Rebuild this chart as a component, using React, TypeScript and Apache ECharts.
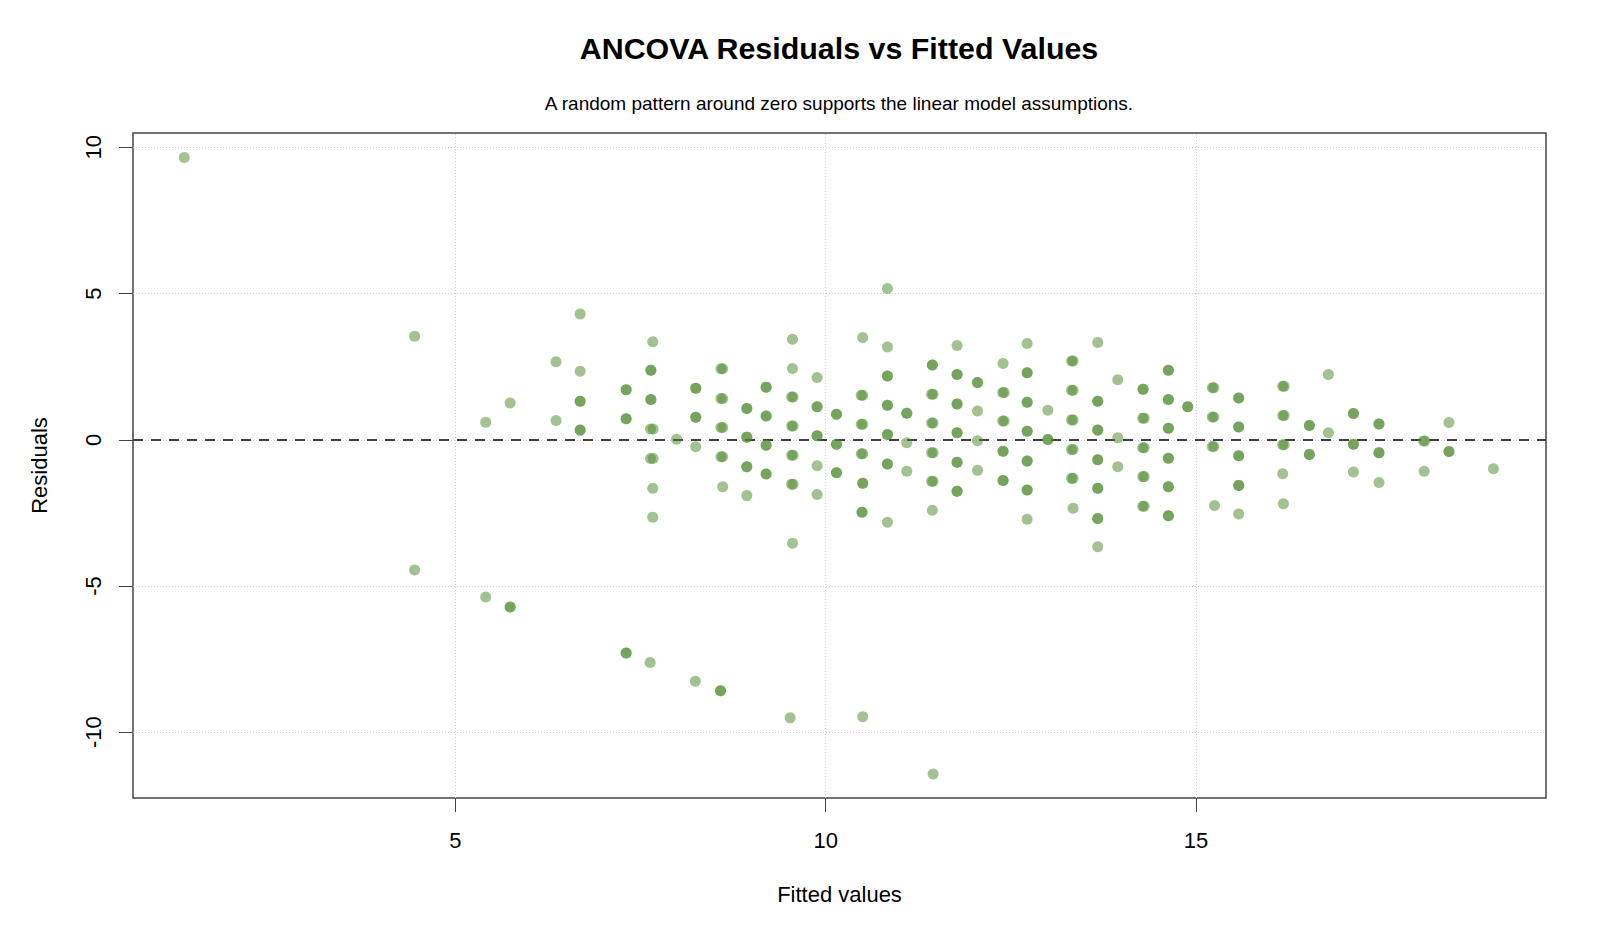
import React, { useEffect, useRef } from "react";
import * as echarts from "echarts";

// Fitted values (x) and residuals (y) of the ANCOVA model, one entry per observation.
// Observations sharing the same fitted value and residual appear as repeated pairs.
const fitted = [
  1.34,
  4.45, 4.45,
  5.41, 5.41,
  5.74, 5.74, 5.74,
  6.36, 6.36,
  6.685, 6.685, 6.685, 6.685, 6.685, 6.685,
  7.306, 7.306, 7.306, 7.306, 7.306, 7.306,
  7.665, 7.64, 7.64, 7.64, 7.64, 7.635, 7.67, 7.635, 7.67, 7.665, 7.665, 7.63,
  7.986,
  8.246, 8.246, 8.246, 8.246, 8.246, 8.24,
  8.585, 8.61, 8.585, 8.61, 8.585, 8.61, 8.585, 8.61, 8.61, 8.58, 8.58,
  8.935, 8.935, 8.935, 8.935, 8.935, 8.935, 8.935,
  9.196, 9.196, 9.196, 9.196, 9.196, 9.196, 9.196, 9.196,
  9.552, 9.552, 9.54, 9.56, 9.54, 9.56, 9.54, 9.56, 9.54, 9.56, 9.552, 9.52,
  9.884, 9.884, 9.884, 9.884, 9.884, 9.884, 9.884,
  10.146, 10.146, 10.146, 10.146, 10.146, 10.146,
  10.5, 10.48, 10.5, 10.48, 10.5, 10.48, 10.5, 10.5, 10.5, 10.49, 10.49, 10.5,
  10.834, 10.834, 10.834, 10.834, 10.834, 10.834, 10.834, 10.834, 10.834, 10.834, 10.834,
  11.095, 11.095, 11.095, 11.095,
  11.44, 11.44, 11.43, 11.45, 11.43, 11.45, 11.43, 11.45, 11.43, 11.45, 11.44, 11.45,
  11.774, 11.774, 11.774, 11.774, 11.774, 11.774, 11.774, 11.774, 11.774, 11.774, 11.774,
  12.05, 12.05, 12.05, 12.05, 12.05,
  12.395, 12.39, 12.41, 12.39, 12.41, 12.395, 12.395, 12.395, 12.395,
  12.72, 12.72, 12.72, 12.72, 12.72, 12.72, 12.72, 12.72, 12.72, 12.72, 12.72, 12.72,
  13.0, 13.0, 13.0,
  13.32, 13.34, 13.32, 13.34, 13.32, 13.34, 13.32, 13.34, 13.32, 13.34, 13.34,
  13.673, 13.673, 13.673, 13.673, 13.673, 13.673, 13.673, 13.673, 13.673, 13.673, 13.673, 13.673,
  13.943, 13.943, 13.943,
  14.285, 14.285, 14.28, 14.3, 14.28, 14.3, 14.28, 14.3, 14.28, 14.3,
  14.627, 14.627, 14.627, 14.627, 14.627, 14.627, 14.627, 14.627, 14.627, 14.627, 14.627, 14.627,
  14.888, 14.888,
  15.22, 15.24, 15.22, 15.24, 15.22, 15.24, 15.25,
  15.576, 15.576, 15.576, 15.576, 15.576, 15.576, 15.576, 15.576, 15.576,
  16.17, 16.19, 16.17, 16.19, 16.17, 16.19, 16.17, 16.18,
  16.53, 16.53, 16.53, 16.53,
  16.787, 16.787,
  17.125, 17.125, 17.125, 17.125, 17.125,
  17.47, 17.47, 17.47, 17.47, 17.47,
  18.07, 18.09, 18.08,
  18.415, 18.415, 18.415,
  19.015,
];

const residuals = [
  9.65,
  3.54, -4.45,
  0.6, -5.38,
  1.26, -5.72, -5.72,
  2.67, 0.66,
  4.3, 2.34, 1.32, 1.32, 0.33, 0.33,
  1.71, 1.71, 0.72, 0.72, -7.29, -7.29,
  3.35, 2.38, 2.38, 1.38, 1.38, 0.37, 0.37, -0.64, -0.64, -1.66, -2.65, -7.62,
  0.02,
  1.76, 1.76, 0.77, 0.77, -0.24, -8.26,
  2.43, 2.43, 1.41, 1.41, 0.42, 0.42, -0.58, -0.58, -1.61, -8.58, -8.58,
  1.07, 1.07, 0.09, 0.09, -0.92, -0.92, -1.91,
  1.8, 1.8, 0.81, 0.81, -0.19, -0.19, -1.17, -1.17,
  3.44, 2.44, 1.46, 1.46, 0.47, 0.47, -0.53, -0.53, -1.52, -1.52, -3.54, -9.51,
  2.13, 1.13, 1.13, 0.14, 0.14, -0.89, -1.87,
  0.87, 0.87, -0.15, -0.15, -1.13, -1.13,
  3.5, 1.52, 1.52, 0.53, 0.53, -0.48, -0.48, -1.49, -1.49, -2.48, -2.48, -9.47,
  5.17, 3.17, 2.18, 2.18, 1.18, 1.18, 0.18, 0.18, -0.83, -0.83, -2.82,
  0.91, 0.91, -0.1, -1.08,
  2.56, 2.56, 1.56, 1.56, 0.57, 0.57, -0.44, -0.44, -1.42, -1.42, -2.41, -11.43,
  3.22, 2.23, 2.23, 1.22, 1.22, 0.24, 0.24, -0.77, -0.77, -1.76, -1.76,
  1.96, 1.96, 0.98, -0.03, -1.04,
  2.61, 1.62, 1.62, 0.64, 0.64, -0.39, -0.39, -1.39, -1.39,
  3.29, 2.29, 2.29, 1.28, 1.28, 0.29, 0.29, -0.73, -0.73, -1.72, -1.72, -2.72,
  1.01, 0.01, 0.01,
  2.69, 2.69, 1.69, 1.69, 0.68, 0.68, -0.33, -0.33, -1.32, -1.32, -2.34,
  3.33, 1.32, 1.32, 0.33, 0.33, -0.68, -0.68, -1.66, -1.66, -2.69, -2.69, -3.66,
  2.05, 0.07, -0.92,
  1.73, 1.73, 0.74, 0.74, -0.27, -0.27, -1.26, -1.26, -2.27, -2.27,
  2.38, 2.38, 1.38, 1.38, 0.39, 0.39, -0.63, -0.63, -1.61, -1.61, -2.6, -2.6,
  1.13, 1.13,
  1.78, 1.78, 0.78, 0.78, -0.23, -0.23, -2.25,
  1.43, 1.43, 0.44, 0.44, -0.55, -0.55, -1.56, -1.56, -2.54,
  1.83, 1.83, 0.83, 0.83, -0.17, -0.17, -1.16, -2.19,
  0.49, 0.49, -0.5, -0.5,
  2.23, 0.24,
  0.9, 0.9, -0.15, -0.15, -1.1,
  0.54, 0.54, -0.44, -0.44, -1.46,
  -0.04, -0.04, -1.08,
  0.59, -0.4, -0.4,
  -0.99,
];

const xTicks = [5, 10, 15];
const yTicks = [-10, -5, 0, 5, 10];
const xRange = [0.648, 19.725];
const yRange = [-12.25, 10.49];

const TITLE = "ANCOVA Residuals vs Fitted Values";
const SUBTITLE = "A random pattern around zero supports the linear model assumptions.";
const X_NAME = "Fitted values";
const Y_NAME = "Residuals";

const FONT = '"Liberation Sans", Arial, Helvetica, sans-serif';
const POINT_COLOR = "rgba(77, 138, 45, 0.65)";
const AXIS_COLOR = "#444444";

export default function App() {
  const ref = useRef<HTMLDivElement>(null);

  useEffect(() => {
    if (!ref.current) return;
    const chart = echarts.init(ref.current, null, { renderer: "svg" });

    const points = fitted.map((x, i) => [x, residuals[i]]);

    const gridStyle = { type: [1, 2], color: "#cfcfcf", width: 1 };
    const zeroStyle = { type: [10, 8], color: "#404040", width: 2 };
    const refLines = [
      ...xTicks.map((v) => ({ xAxis: v, lineStyle: gridStyle })),
      ...yTicks.map((v) => ({ yAxis: v, lineStyle: gridStyle })),
      { yAxis: 0, lineStyle: zeroStyle },
    ];

    chart.setOption({
      animation: false,
      backgroundColor: "#ffffff",
      textStyle: { fontFamily: FONT },
      title: [
        {
          text: TITLE,
          left: 839,
          top: 48,
          padding: 0,
          textAlign: "center",
          textVerticalAlign: "middle",
          textStyle: { fontFamily: FONT, fontSize: 30.4, fontWeight: "bold", color: "#000000" },
        },
        {
          text: SUBTITLE,
          left: 839,
          top: 103,
          padding: 0,
          textAlign: "center",
          textVerticalAlign: "middle",
          textStyle: { fontFamily: FONT, fontSize: 19, fontWeight: "normal", color: "#000000" },
        },
      ],
      grid: {
        left: 133,
        right: 54,
        top: 133,
        bottom: 135,
        show: true,
        borderColor: AXIS_COLOR,
        borderWidth: 1.5,
        backgroundColor: "transparent",
        containLabel: false,
      },
      xAxis: {
        type: "value",
        min: xRange[0],
        max: xRange[1],
        name: X_NAME,
        nameLocation: "middle",
        nameGap: 85,
        nameTextStyle: { fontFamily: FONT, fontSize: 22, color: "#000000" },
        axisLine: { show: false, onZero: false },
        axisTick: {
          show: true,
          customValues: xTicks,
          length: 14,
          lineStyle: { color: AXIS_COLOR, width: 1 },
        },
        axisLabel: {
          customValues: xTicks,
          margin: 31,
          fontFamily: FONT,
          fontSize: 22,
          color: "#000000",
        },
        splitLine: { show: false },
      },
      yAxis: {
        type: "value",
        min: yRange[0],
        max: yRange[1],
        name: Y_NAME,
        nameLocation: "middle",
        nameGap: 83,
        nameTextStyle: { fontFamily: FONT, fontSize: 22, color: "#000000" },
        axisLine: { show: false, onZero: false },
        axisTick: {
          show: true,
          customValues: yTicks,
          length: 14,
          lineStyle: { color: AXIS_COLOR, width: 1 },
        },
        axisLabel: {
          customValues: yTicks,
          rotate: 90,
          margin: 29,
          fontFamily: FONT,
          fontSize: 22,
          color: "#000000",
        },
        splitLine: { show: false },
      },
      series: [
        {
          type: "scatter",
          name: Y_NAME,
          data: points,
          symbol: "circle",
          symbolSize: 11,
          z: 3,
          itemStyle: { color: POINT_COLOR },
          emphasis: { disabled: true },
          markLine: {
            silent: true,
            z: 1,
            symbol: ["none", "none"],
            label: { show: false },
            emphasis: { disabled: true },
            data: refLines,
          },
        },
      ],
    });

    return () => chart.dispose();
  }, []);

  return (
    <div
      ref={ref}
      style={{ position: "fixed", left: 0, top: 0, width: 1600, height: 933 }}
    />
  );
}
